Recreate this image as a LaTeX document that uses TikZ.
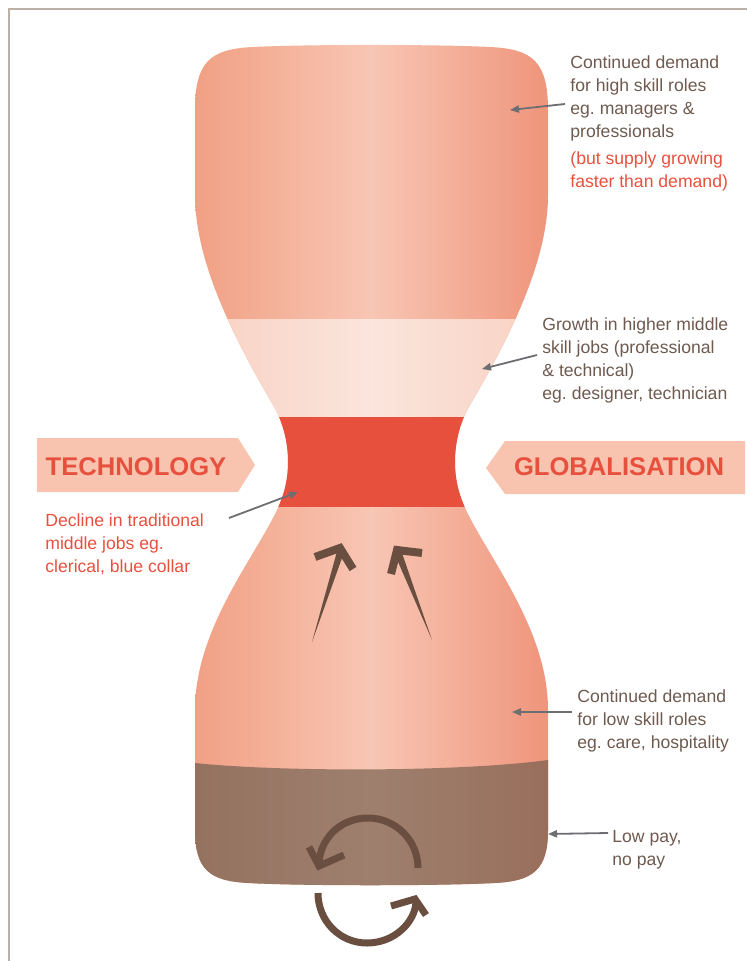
\documentclass[tikz,border=0pt]{standalone}
\usepackage{fontspec}
\setmainfont{Liberation Sans}
\frenchspacing
\usetikzlibrary{arrows.meta,positioning}
\definecolor{salmon}{HTML}{F1A084}
\definecolor{salmonlt}{HTML}{F8C6B4}
\definecolor{salmondk}{HTML}{EF957B}
\definecolor{blush}{HTML}{F8D1C2}
\definecolor{blushlt}{HTML}{FBE5DC}
\definecolor{brick}{HTML}{E8503E}
\definecolor{mud}{HTML}{957260}
\definecolor{mudlt}{HTML}{9E7F6E}
\definecolor{muddk}{HTML}{996F5C}
\definecolor{cocoa}{HTML}{6A4E3F}
\definecolor{inkb}{HTML}{6E5A4F}
\definecolor{ptrg}{HTML}{6D6E71}
\definecolor{flagfill}{HTML}{F8C4B0}
\definecolor{framec}{HTML}{BCB0A7}
\tikzset{
  note/.style={anchor=base west, inner sep=0pt, align=left, text=inkb,
               font=\fontsize{8.8}{11.5}\selectfont},
  notered/.style={note, text=brick},
  flagtxt/.style={anchor=base, inner sep=0pt, text=brick, font=\fontsize{12.8}{14}\selectfont\bfseries},
  banner/.style={fill=flagfill},
  ptr/.style={-{Triangle[length=4.5pt,width=3.6pt]}, line width=0.9pt, draw=ptrg},
  upar/.style={line width=4pt, draw=cocoa, miter limit=10},
  turn/.style={line width=3.5pt, draw=cocoa},
}
% hourglass outline, pixel units, y downwards
\def\glasspath{(371,45) .. controls (433,45) and (470,46) .. (490,47)
  .. controls (533,49) and (548,62) .. (548,110) -- (548,195)
  .. controls (548,265) and (505,345) .. (470,405)
  .. controls (460,422) and (455,442) .. (455,462)
  .. controls (455,482) and (460,497) .. (466,510)
  .. controls (490,560) and (548,630) .. (548,710) -- (548,830)
  .. controls (548,870) and (533,881) .. (495,883)
  .. controls (440,886) and (300,886) .. (248,883)
  .. controls (210,881) and (195,870) .. (195,830) -- (195,710)
  .. controls (195,630) and (253,560) .. (277,510)
  .. controls (283,497) and (288,482) .. (288,462)
  .. controls (288,442) and (283,422) .. (273,405)
  .. controls (238,345) and (195,265) .. (195,195) -- (195,110)
  .. controls (195,62) and (210,49) .. (253,47)
  .. controls (273,46) and (310,45) .. (371,45) -- cycle}

\begin{document}
\begin{tikzpicture}[x={(0.5pt,0)}, y={(0,-0.5pt)}]
  \useasboundingbox (0,0) rectangle (747,961);
  \draw[framec, line width=1.3pt] (9,961) -- (9,9) -- (747,9);

  % glass body and bands
  \path[left color=salmon, right color=salmondk, middle color=salmonlt] \glasspath;
  \begin{scope}
    \clip \glasspath;
    \path[left color=blush, right color=blush, middle color=blushlt] (195,320) rectangle (548,417);
    \fill[brick] (150,417) rectangle (600,507);
    \path[left color=mud, right color=muddk, middle color=mudlt]
      (195,763) .. controls (280,772) and (460,772) .. (548,760) -- (548,900) -- (195,900) -- cycle;
  \end{scope}

  % banners
  \fill[banner] (37,438) -- (238,438) -- (255,465) -- (238,492) -- (37,492) -- cycle;
  \fill[banner] (745,441) -- (505,441) -- (486,468) -- (505,494) -- (745,494) -- cycle;
  \node[flagtxt] (tech) at (136,475) {TECHNOLOGY};
  \node[flagtxt] (glob) at (619,475) {GLOBALISATION};

  % rising arrows
  \fill[cocoa] (312,642) -- (337.2,550.7) -- (343.8,552.9) -- cycle;
  \draw[upar] (315,557) -- (340,548) -- (353,569);
  \fill[cocoa] (432,640) -- (402.1,553.4) -- (395.5,556.0) -- cycle;
  \draw[upar] (422,553) -- (397,550) -- (391,574);

  % turning arrows
  \draw[turn] (418,868) .. controls (418,840.4) and (395.6,818) .. (368,818)
    .. controls (340.4,818) and (321,838) .. (319,862);
  \draw[turn] (309,847) -- (319,866) -- (344,855);
  \draw[turn] (318,893) .. controls (318,920.6) and (339.4,943) .. (367,943)
    .. controls (394.6,943) and (415,922) .. (416,902);
  \draw[turn] (391,906) -- (415,899) -- (426,915);

  % labels (anchored on the last line)
  \node[note] (hightxt) at (570,138) {Continued demand\\for high skill roles\\eg. managers \&\\professionals};
  \node[notered] (hisup) at (570,188) {(but supply growing\\faster than demand)};
  \node[note] (midtxt) at (542,400) {Growth in higher middle\\skill jobs (professional\\\& technical)\\eg. designer, technician};
  \node[notered] (dectxt) at (45,572) {Decline in traditional\\middle jobs eg.\\clerical, blue collar};
  \node[note] (lowtxt) at (577,748) {Continued demand\\for low skill roles\\eg. care, hospitality};
  \node[note] (paytxt) at (612,865) {Low pay,\\no pay};

  \coordinate (hi-a) at (565,104);  \coordinate (hi-b) at (510,110);
  \coordinate (mid-a) at (537,355); \coordinate (mid-b) at (482,369);
  \coordinate (dec-a) at (229,518); \coordinate (dec-b) at (298,492);
  \coordinate (low-a) at (572,712); \coordinate (low-b) at (512,712);
  \coordinate (pay-a) at (608,833); \coordinate (pay-b) at (548,834);
  \draw[ptr] (hi-a) -- (hi-b);
  \draw[ptr] (mid-a) -- (mid-b);
  \draw[ptr] (dec-a) -- (dec-b);
  \draw[ptr] (low-a) -- (low-b);
  \draw[ptr] (pay-a) -- (pay-b);
\end{tikzpicture}
\end{document}
